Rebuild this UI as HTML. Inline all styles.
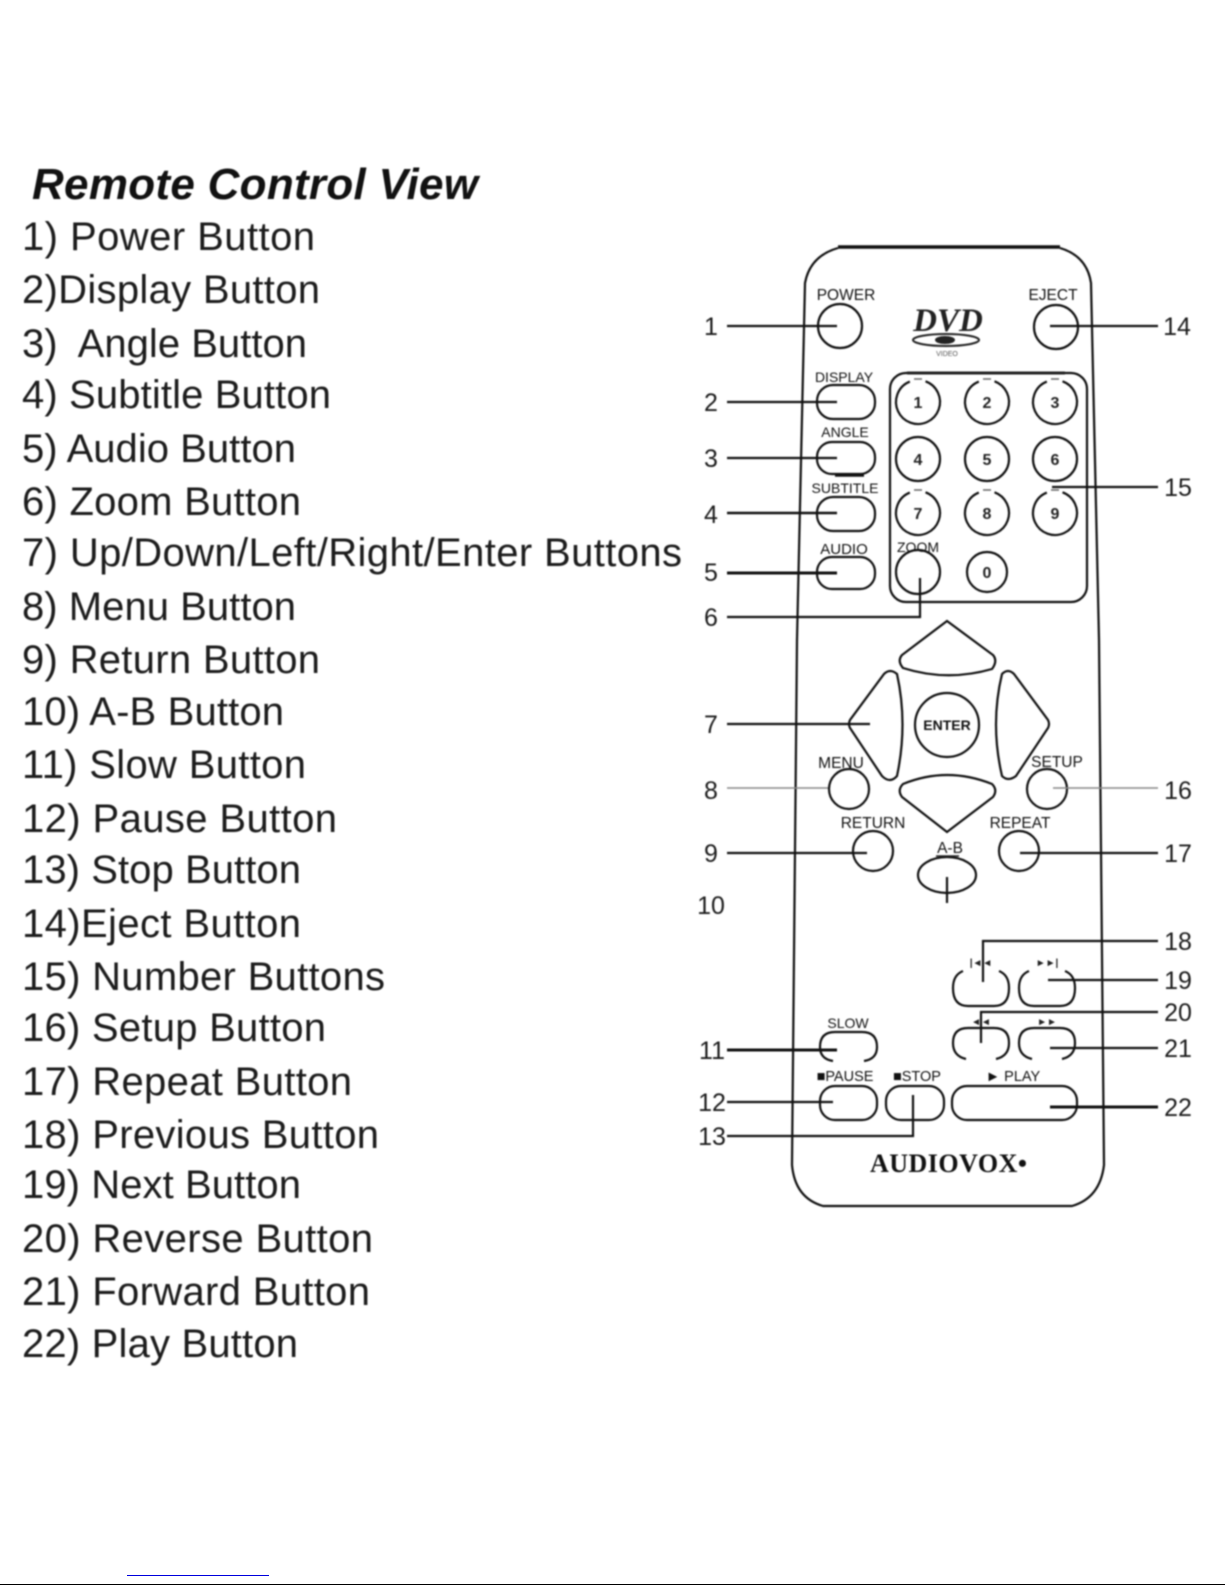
<!DOCTYPE html>
<html><head><meta charset="utf-8"><style>
html,body{margin:0;padding:0;background:#fff;width:1225px;height:1585px;overflow:hidden}
svg{position:absolute;left:0;top:0}
#main{filter:blur(.8px)}
.l{font-family:"Liberation Sans",Arial,sans-serif;font-size:40px;fill:#1c1c1c}
.n{font-family:"Liberation Sans",Arial,sans-serif;font-size:25px;fill:#1c1c1c;text-anchor:middle}
.s{font-family:"Liberation Sans",Arial,sans-serif;font-size:15.5px;fill:#111;text-anchor:middle}
.d{font-family:"Liberation Sans",Arial,sans-serif;font-size:16px;font-weight:bold;fill:#222;text-anchor:middle}
.b{fill:none;stroke:#111;stroke-width:2.2}
.w{stroke:#111;stroke-width:2.2;fill:none}
</style></head><body>
<svg id="main" width="1225" height="1585" viewBox="0 0 1225 1585" xmlns="http://www.w3.org/2000/svg">
<text x="32" y="199" textLength="446" lengthAdjust="spacing" style="font-family:'Liberation Sans',Arial,sans-serif;font-size:44px;font-weight:bold;font-style:italic;fill:#111">Remote Control View</text>
<text class="l" x="22" y="250" textLength="293">1) Power Button</text>
<text class="l" x="22" y="303" textLength="298">2)Display Button</text>
<text class="l" x="22" y="357" textLength="285" xml:space="preserve">3)  Angle Button</text>
<text class="l" x="22" y="408" textLength="309">4) Subtitle Button</text>
<text class="l" x="22" y="462" textLength="274">5) Audio Button</text>
<text class="l" x="22" y="515" textLength="279">6) Zoom Button</text>
<text class="l" x="22" y="566" textLength="660">7) Up/Down/Left/Right/Enter Buttons</text>
<text class="l" x="22" y="620" textLength="274">8) Menu Button</text>
<text class="l" x="22" y="673" textLength="298">9) Return Button</text>
<text class="l" x="22" y="725" textLength="262">10) A-B Button</text>
<text class="l" x="22" y="778" textLength="284">11) Slow Button</text>
<text class="l" x="22" y="832" textLength="315">12) Pause Button</text>
<text class="l" x="22" y="883" textLength="279">13) Stop Button</text>
<text class="l" x="22" y="937" textLength="279">14)Eject Button</text>
<text class="l" x="22" y="990" textLength="363">15) Number Buttons</text>
<text class="l" x="22" y="1041" textLength="304">16) Setup Button</text>
<text class="l" x="22" y="1095" textLength="330">17) Repeat Button</text>
<text class="l" x="22" y="1148" textLength="357">18) Previous Button</text>
<text class="l" x="22" y="1198" textLength="279">19) Next Button</text>
<text class="l" x="22" y="1252" textLength="351">20) Reverse Button</text>
<text class="l" x="22" y="1305" textLength="348">21) Forward Button</text>
<text class="l" x="22" y="1357" textLength="276">22) Play Button</text>

<!-- body -->
<path class="b" d="M838,248 Q810,256 805,283 L797,640 L792,1165 Q795,1198 823,1206 L1072,1206 Q1100,1198 1104,1165 L1099,640 L1091,283 Q1087,256 1060,248"/>
<path d="M838,247 H1060" stroke="#111" stroke-width="3.5"/>

<!-- top buttons -->
<circle class="b" cx="840" cy="326" r="22"/>
<circle class="b" cx="1056" cy="327" r="22"/>
<text class="s" x="846" y="300">POWER</text>
<text class="s" x="1053" y="300">EJECT</text>
<!-- DVD logo -->
<text x="948" y="331" text-anchor="middle" style="font-family:'Liberation Serif',serif;font-size:33px;font-weight:bold;font-style:italic;fill:#222">DVD</text>
<ellipse cx="946" cy="340" rx="33" ry="6" fill="none" stroke="#222" stroke-width="2"/>
<ellipse cx="945" cy="340" rx="10" ry="4" fill="#222"/>
<text x="947" y="356" text-anchor="middle" style="font-family:'Liberation Sans',sans-serif;font-size:7px;fill:#555">VIDEO</text>

<!-- left column -->
<rect class="b" x="817" y="385" width="58" height="34" rx="16"/>
<rect class="b" x="817" y="442" width="58" height="32" rx="15"/>
<path d="M835,475 H864" stroke="#111" stroke-width="3.5"/>
<rect class="b" x="817" y="497" width="58" height="34" rx="16"/>
<rect class="b" x="817" y="557" width="58" height="32" rx="15"/>
<text class="s" x="844" y="382" style="font-size:14px">DISPLAY</text>
<text class="s" x="845" y="437" style="font-size:14px">ANGLE</text>
<text class="s" x="845" y="493" style="font-size:14px">SUBTITLE</text>
<text class="s" x="844" y="554" style="font-size:15px">AUDIO</text>

<!-- number pad -->
<rect class="b" x="890" y="373" width="197" height="229" rx="16"/>
<path d="M907,373 H1065" stroke="#222" stroke-width="3"/>
<circle class="b" cx="918" cy="402" r="22" stroke-dasharray="122 16" transform="rotate(-70 918 402)"/>
<circle class="b" cx="987" cy="402" r="22" stroke-dasharray="122 16" transform="rotate(-70 987 402)"/>
<circle class="b" cx="1055" cy="402" r="22" stroke-dasharray="122 16" transform="rotate(-70 1055 402)"/>
<circle class="b" cx="918" cy="459" r="22"/>
<circle class="b" cx="987" cy="459" r="22"/>
<circle class="b" cx="1055" cy="459" r="22"/>
<circle class="b" cx="918" cy="513" r="22" stroke-dasharray="122 16" transform="rotate(-70 918 513)"/>
<circle class="b" cx="987" cy="513" r="22" stroke-dasharray="122 16" transform="rotate(-70 987 513)"/>
<circle class="b" cx="1055" cy="513" r="22" stroke-dasharray="122 16" transform="rotate(-70 1055 513)"/>
<circle class="b" cx="918" cy="572" r="22"/>
<circle class="b" cx="987" cy="572" r="20"/>
<path d="M914,379H922M983,379H991M1051,379H1059M914,490H922M983,490H991M1051,490H1059" stroke="#666" stroke-width="1.5"/>
<text class="d" x="918" y="408">1</text><text class="d" x="987" y="408">2</text><text class="d" x="1055" y="408">3</text>
<text class="d" x="918" y="465">4</text><text class="d" x="987" y="465">5</text><text class="d" x="1055" y="465">6</text>
<text class="d" x="918" y="519">7</text><text class="d" x="987" y="519">8</text><text class="d" x="1055" y="519">9</text>
<text class="d" x="987" y="578">0</text>
<text class="s" x="918" y="552" style="font-size:14px">ZOOM</text>

<!-- d-pad -->
<path class="b" d="M947,621 L902,655 Q897,661 903,668 Q947,682 992,669 Q998,661 993,655 Z"/>
<path class="b" d="M850,720 Q848,724 850,728 L882,776 Q890,784 897,776 Q908,724 897,674 Q890,668 884,674 Z"/>
<path class="b" d="M1048,720 Q1050,724 1048,728 L1016,776 Q1008,782 1002,776 Q990,724 1002,674 Q1008,668 1014,674 Z"/>
<path class="b" d="M947,832 L902,797 Q897,790 903,784 Q947,766 992,784 Q998,790 993,797 Z"/>
<circle class="b" cx="947" cy="725" r="32"/>
<text class="s" x="947" y="730" style="font-size:14px;font-weight:bold">ENTER</text>

<circle class="b" cx="849" cy="789" r="20"/>
<circle class="b" cx="1047" cy="789" r="20"/>
<circle class="b" cx="873" cy="851" r="20"/>
<circle class="b" cx="1019" cy="851" r="20"/>
<ellipse class="b" cx="947" cy="875" rx="29" ry="18"/>
<path d="M936,856 H959" stroke="#222" stroke-width="1.5"/>
<text class="s" x="841" y="768">MENU</text>
<text class="s" x="1057" y="767">SETUP</text>
<text class="s" x="873" y="828">RETURN</text>
<text class="s" x="1020" y="828">REPEAT</text>
<text class="s" x="950" y="853">A-B</text>

<!-- transport -->
<path class="b" d="M963,971 Q953,975 953,988 Q953,1006 968,1006 H994 Q1009,1006 1009,988 Q1009,975 999,971"/>
<path class="b" d="M1029,971 Q1019,975 1019,988 Q1019,1006 1034,1006 H1060 Q1075,1006 1075,988 Q1075,975 1065,971"/>
<path class="b" d="M966,1059 Q953,1056 953,1043 Q953,1028 968,1028 H994 Q1009,1028 1009,1043 Q1009,1056 996,1059"/>
<path class="b" d="M1032,1059 Q1019,1056 1019,1043 Q1019,1028 1034,1028 H1060 Q1075,1028 1075,1043 Q1075,1056 1062,1059"/>
<path class="b" d="M833,1061 Q820,1059 820,1047 Q820,1032 835,1032 H862 Q877,1032 877,1047 Q877,1059 864,1061"/>
<rect class="b" x="820" y="1086" width="57" height="34" rx="15"/>
<rect class="b" x="886" y="1086" width="58" height="34" rx="15"/>
<rect class="b" x="952" y="1086" width="125" height="34" rx="15"/>
<text x="981" y="966" text-anchor="middle" style="font-family:'Liberation Sans',sans-serif;font-size:10px;font-weight:bold;fill:#222">|◄◄</text>
<text x="1047" y="966" text-anchor="middle" style="font-family:'Liberation Sans',sans-serif;font-size:10px;font-weight:bold;fill:#222">►►|</text>
<text x="981" y="1025" text-anchor="middle" style="font-family:'Liberation Sans',sans-serif;font-size:10px;font-weight:bold;fill:#222">◄◄</text>
<text x="1047" y="1025" text-anchor="middle" style="font-family:'Liberation Sans',sans-serif;font-size:10px;font-weight:bold;fill:#222">►►</text>
<text class="s" x="848" y="1028" style="font-size:14px">SLOW</text>
<text class="s" x="845" y="1081" style="font-size:14.5px">■PAUSE</text>
<text class="s" x="917" y="1081" style="font-size:14.5px">■STOP</text>
<text class="s" x="1013" y="1081" style="font-size:14.5px">► PLAY</text>
<text x="870" y="1172" textLength="157" style="font-family:'Liberation Serif',serif;font-size:26px;font-weight:bold;fill:#111">AUDIOVOX•</text>

<!-- leaders -->
<g class="w">
<path d="M727,326H837"/><path d="M1158,326H1050"/>
<path d="M727,402H837"/><path d="M727,458H837"/>
<path d="M727,513H837" stroke-width="2.5"/><path d="M727,573H837" stroke-width="3"/>
<path d="M727,617H920V578"/><path d="M1158,487H1052"/>
<path d="M727,724H870"/>
<path d="M727,788H828" stroke="#888" stroke-width="1.5"/><path d="M1158,788H1053" stroke="#888" stroke-width="1.5"/>
<path d="M727,853H867"/><path d="M1158,853H1020"/>
<path d="M947,877V903"/>
<path d="M1158,941H983V982"/><path d="M1158,980H1048"/>
<path d="M1158,1012H981V1043"/><path d="M1158,1048H1050"/>
<path d="M727,1050H837" stroke-width="3"/>
<path d="M727,1102H833"/>
<path d="M727,1136H913V1095"/>
<path d="M1158,1107H1050" stroke-width="3"/>
</g>

<text class="n" x="711" y="335">1</text>
<text class="n" x="711" y="411">2</text>
<text class="n" x="711" y="467">3</text>
<text class="n" x="711" y="523">4</text>
<text class="n" x="711" y="581">5</text>
<text class="n" x="711" y="626">6</text>
<text class="n" x="711" y="733">7</text>
<text class="n" x="711" y="799">8</text>
<text class="n" x="711" y="862">9</text>
<text class="n" x="711" y="914">10</text>
<text class="n" x="712" y="1059">11</text>
<text class="n" x="712" y="1111">12</text>
<text class="n" x="712" y="1145">13</text>
<text class="n" x="1177" y="335">14</text>
<text class="n" x="1178" y="496">15</text>
<text class="n" x="1178" y="799">16</text>
<text class="n" x="1178" y="862">17</text>
<text class="n" x="1178" y="950">18</text>
<text class="n" x="1178" y="989">19</text>
<text class="n" x="1178" y="1021">20</text>
<text class="n" x="1178" y="1057">21</text>
<text class="n" x="1178" y="1116">22</text>
</svg>
<svg width="1225" height="1585" viewBox="0 0 1225 1585" xmlns="http://www.w3.org/2000/svg">
<rect x="127" y="1575" width="142" height="1" fill="#0000dd"/>
<rect x="0" y="1584" width="1225" height="1" fill="#000"/>
</svg>
</body></html>
